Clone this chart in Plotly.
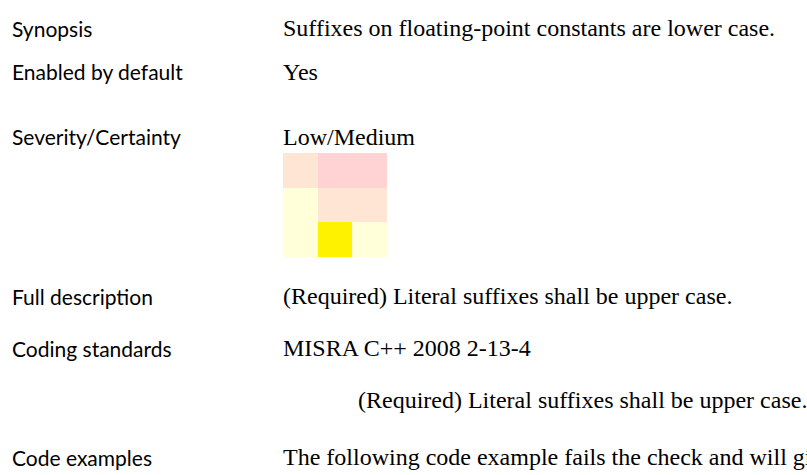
import plotly.graph_objects as go

# ---- data ----
field_labels = ["Synopsis", "Enabled by default", "Severity/Certainty",
                "Full description", "Coding standards", "Code examples"]
field_values = ["Suffixes on floating-point constants are lower case.",
                "Yes",
                "Low/Medium",
                "(Required) Literal suffixes shall be upper case.",
                "MISRA C++ 2008 2-13-4",
                "The following code example fails the check and will give a warning:"]
standard_note = "(Required) Literal suffixes shall be upper case."

# severity/certainty matrix (rows top->bottom), 0=low,1=mid,2=high,3=selected
matrix_cols = ["c1", "c2", "c3"]
matrix_rows = ["r1", "r2", "r3"]
matrix_z = [[1, 2, 2],
            [0, 1, 1],
            [0, 3, 0]]

W, H = 807, 475
label_y = [28, 72, 137, 296, 348, 457]
note_y = 400

fig = go.Figure()
fig.add_trace(go.Heatmap(
    z=matrix_z, x=matrix_cols, y=matrix_rows,
    zmin=0, zmax=3,
    colorscale=[[0.0, "#FFFFDA"], [0.25, "#FFFFDA"],
                [0.25, "#FFE6D4"], [0.5, "#FFE6D4"],
                [0.5, "#FFD2D4"], [0.75, "#FFD2D4"],
                [0.75, "#FFF200"], [1.0, "#FFF200"]],
    showscale=False, hoverinfo="skip", xgap=0, ygap=0,
))

fig.update_layout(
    width=W, height=H,
    margin=dict(l=0, r=0, t=0, b=0),
    paper_bgcolor="white", plot_bgcolor="white",
    xaxis=dict(domain=[283 / W, 387 / W], visible=False, fixedrange=True),
    yaxis=dict(domain=[1 - 257 / H, 1 - 153 / H], visible=False,
               autorange="reversed", fixedrange=True),
    showlegend=False,
)

sans = "Lato, 'Noto Sans', sans-serif"
serif = "'Liberation Serif', 'DejaVu Serif', serif"
for lab, val, yy in zip(field_labels, field_values, label_y):
    fig.add_annotation(text=lab, x=10 / W, y=1 - yy / H, xref="paper", yref="paper",
                       xanchor="left", yanchor="middle", showarrow=False,
                       font=dict(family=sans, size=21, color="black"))
    fig.add_annotation(text=val, x=281 / W, y=1 - yy / H, xref="paper", yref="paper",
                       xanchor="left", yanchor="middle", showarrow=False,
                       font=dict(family=serif, size=24, color="black"))
fig.add_annotation(text=standard_note, x=356 / W, y=1 - note_y / H, xref="paper", yref="paper",
                   xanchor="left", yanchor="middle", showarrow=False,
                   font=dict(family=serif, size=24, color="black"))

fig.write_html("out.html", post_script="document.body.style.margin='0';", config={"displayModeBar": False})
